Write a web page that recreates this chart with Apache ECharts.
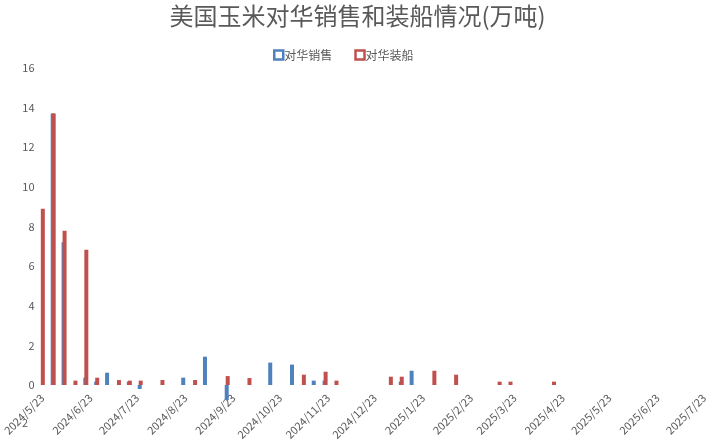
<!DOCTYPE html>
<html>
<head>
<meta charset="utf-8">
<script src="https://cdn.jsdelivr.net/npm/echarts@6/dist/echarts.min.js"></script>
<style>
  html, body { margin: 0; padding: 0; background: #fff; }
  #chart { width: 715px; height: 444px; }
</style>
</head>
<body>
<div id="chart"></div>
<script>
// 周度数据（每周四），单位：万吨
var weekDates = [
  '2024/5/23','2024/5/30','2024/6/6','2024/6/13','2024/6/20','2024/6/27',
  '2024/7/4','2024/7/11','2024/7/18','2024/7/25','2024/8/1','2024/8/8',
  '2024/8/15','2024/8/22','2024/8/29','2024/9/5','2024/9/12','2024/9/19',
  '2024/9/26','2024/10/3','2024/10/10','2024/10/17','2024/10/24','2024/10/31',
  '2024/11/7','2024/11/14','2024/11/21','2024/11/28','2024/12/5','2024/12/12',
  '2024/12/19','2024/12/26','2025/1/2','2025/1/9','2025/1/16','2025/1/23',
  '2025/1/30','2025/2/6','2025/2/13','2025/2/20','2025/2/27','2025/3/6',
  '2025/3/13','2025/3/20','2025/3/27','2025/4/3','2025/4/10','2025/4/17'
];
var salesValues = [
  null, 13.7, 7.2, null, 0.37, 0.17,
  0.62, null, 0.17, -0.2, null, null,
  null, 0.37, null, 1.43, null, -0.76,
  null, null, null, 1.13, null, 1.03,
  null, 0.22, 0.22, null, null, null,
  null, null, null, 0.17, 0.72, null,
  null, null, null, null, null, null,
  null, null, null, null, null, null
];
var shipValues = [
  8.9, 13.7, 7.78, 0.22, 6.83, 0.37,
  null, 0.25, 0.22, 0.22, null, 0.25,
  null, null, 0.25, null, null, 0.45,
  null, 0.35, null, null, null, null,
  0.52, null, 0.67, 0.22, null, null,
  null, null, 0.42, 0.42, null, null,
  0.72, null, 0.52, null, null, null,
  0.17, 0.17, null, null, null, 0.17
];
var yTicks = [0, 2, 4, 6, 8, 10, 12, 14, 16];

// 日期轴：逐日类目，只在每月23日显示标签
function buildDays(start, end){
  var out = [];
  var d = new Date(start[0], start[1] - 1, start[2]);
  var e = new Date(end[0], end[1] - 1, end[2]);
  while (d <= e) {
    out.push(d.getFullYear() + '/' + (d.getMonth() + 1) + '/' + d.getDate());
    d.setDate(d.getDate() + 1);
  }
  return out;
}
var days = buildDays([2024, 5, 23], [2025, 7, 23]);

function pairs(values){
  return weekDates.map(function(d, i){ return [d, values[i]]; });
}

var font = '"Noto Sans CJK SC", "Liberation Sans", sans-serif';
var grey = '#595959';
var blue = '#4F81BD';
var red = '#C0504D';

var chart = echarts.init(document.getElementById('chart'), null, { renderer: 'canvas' });
chart.setOption({
  animation: false,
  textStyle: { fontFamily: font },
  title: {
    text: '美国玉米对华销售和装船情况(万吨)',
    left: 'center',
    top: -1,
    textStyle: { fontSize: 24, fontWeight: 'normal', color: grey, fontFamily: font }
  },
  legend: {
    top: 44,
    left: 268,
    itemWidth: 9,
    itemHeight: 9,
    itemGap: 22,
    icon: 'rect',
    textStyle: { fontSize: 12, color: grey, padding: [0, 0, 0, -4] },
    data: [
      { name: '对华销售', itemStyle: { color: '#fff', borderColor: blue, borderWidth: 2.5 } },
      { name: '对华装船', itemStyle: { color: '#fff', borderColor: red, borderWidth: 2.5 } }
    ]
  },
  // 左下角残留的一个字符
  graphic: [{
    type: 'text', left: 22, top: 417,
    style: { text: '2', fontSize: 11, fill: grey, fontFamily: font }
  }],
  grid: { left: 35.5, right: 10, top: 68, bottom: 59, containLabel: false },
  xAxis: {
    type: 'category',
    data: days,
    boundaryGap: true,
    axisLine: { show: false },
    axisTick: { show: false },
    axisLabel: {
      interval: function(idx, val){ return /\/23$/.test(val); },
      rotate: 45,
      margin: 11,
      fontSize: 11,
      color: grey
    }
  },
  yAxis: {
    type: 'value',
    min: yTicks[0],
    max: yTicks[yTicks.length - 1],
    interval: 2,
    splitLine: { show: false },
    axisLine: { show: false },
    axisTick: { show: false },
    axisLabel: { fontSize: 11, color: grey, margin: 7 }
  },
  series: [
    {
      name: '对华销售',
      type: 'bar',
      data: pairs(salesValues),
      barWidth: 4,
      barGap: '-75%',
      clip: false,
      itemStyle: { color: blue }
    },
    {
      name: '对华装船',
      type: 'bar',
      data: pairs(shipValues),
      barWidth: 4,
      barGap: '-75%',
      clip: false,
      itemStyle: { color: red }
    }
  ]
});
</script>
</body>
</html>
